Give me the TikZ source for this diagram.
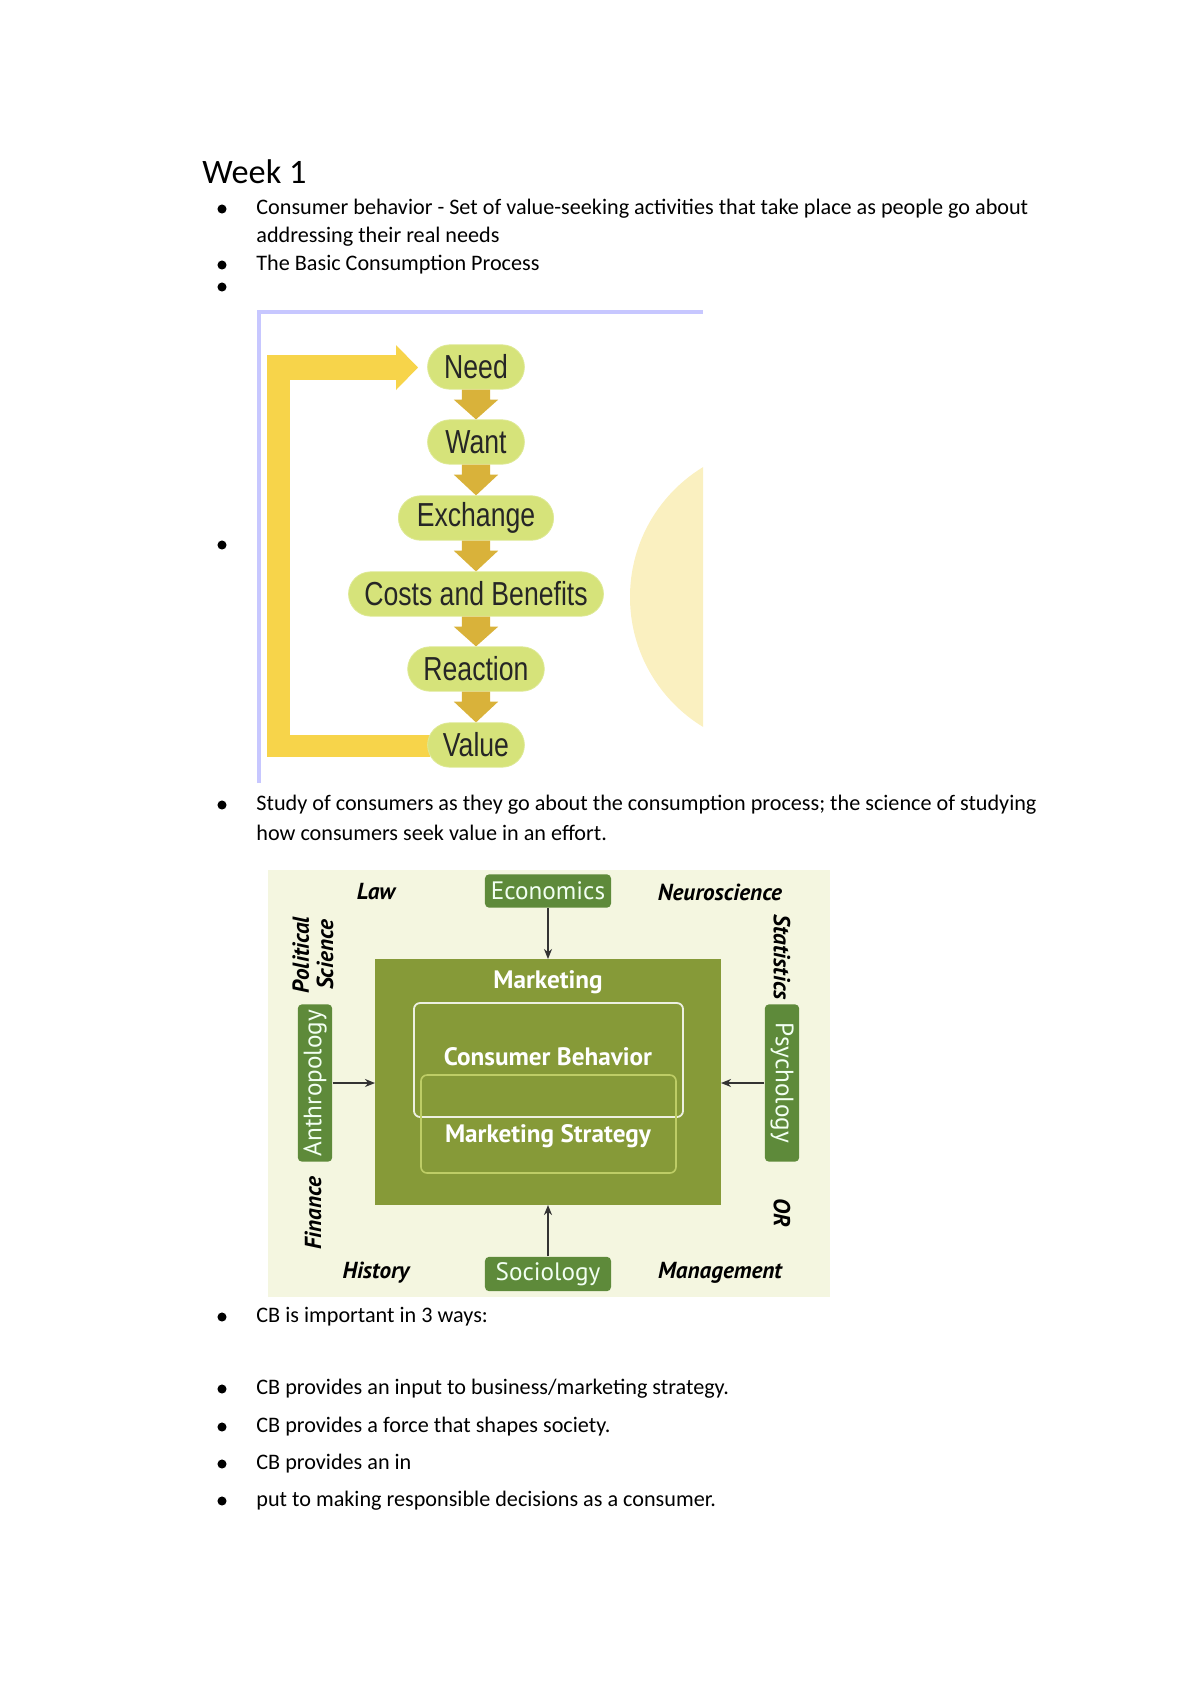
\documentclass[tikz,border=0pt]{standalone}
\usepackage{fontspec}
\setmainfont{Carlito}
\newfontfamily\narrowf[FakeStretch=0.8]{Liberation Sans}
\newfontfamily\ptf{PT Sans}
\usetikzlibrary{shapes.geometric,shapes.misc,arrows.meta}
\definecolor{pill}{HTML}{D6E37A}
\definecolor{gold}{HTML}{D9B23A}
\definecolor{loopy}{HTML}{F7D44A}
\definecolor{bgl}{HTML}{F4F6E0}
\definecolor{dg}{HTML}{5E8A3A}
\definecolor{olive}{HTML}{869A38}
\definecolor{cream}{HTML}{FAF0C0}
\tikzset{
 txt/.style={anchor=west,inner sep=0pt,font=\fontsize{11}{13}\selectfont},
 bul/.style={circle,fill=black,inner sep=0pt,minimum size=4.5pt},
 pillst/.style={rounded rectangle,fill=pill,draw=pill!80!white,minimum height=22pt,minimum width=60pt,inner xsep=6pt,font=\narrowf\fontsize{16.5}{16.5}\selectfont,text=black!85},
 disc/.style={rectangle,rounded corners=2pt,fill=dg,text=white!95!green,font=\ptf\fontsize{12.5}{12.5}\selectfont,inner sep=0pt},
 lab/.style={font=\ptf\bfseries\itshape\fontsize{11.5}{12}\selectfont,inner sep=0pt,align=center},
 inw/.style={text=white,font=\ptf\bfseries\fontsize{12.5}{12.5}\selectfont},
 ar/.style={-{Stealth[length=5pt,width=4pt]},black!80,line width=0.7pt}
}
\begin{document}
\begin{tikzpicture}[x=0.496pt,y=-0.496pt]
\useasboundingbox (0,0) rectangle (1200,1698);
\node[anchor=west,inner sep=0pt,font=\fontsize{17}{17}\selectfont] (wk) at (202,172) {Week 1};
\foreach \y/\n in {209/a,265/b,287/c,545/d,805/e,1317/f,1389/g,1427/h,1464/i,1501/j}{\node[bul] (b\n) at (222,\y) {};}
\node[txt] (t1) at (256,209) {Consumer behavior - Set of value-seeking activities that take place as people go about};
\node[txt] (t1b) at (256,237) {addressing their real needs};
\node[txt] (t2) at (256,265) {The Basic Consumption Process};
\node[txt] (t3) at (256,805) {Study of consumers as they go about the consumption process; the science of studying};
\node[txt] (t3b) at (256,833) {how consumers seek value in an effort.};
\node[txt] (t4) at (256,1317) {CB is important in 3 ways:};
\node[txt] (t5) at (256,1389) {CB provides an input to business/marketing strategy.};
\node[txt] (t6) at (256,1427) {CB provides a force that shapes society.};
\node[txt] (t7) at (256,1464) {CB provides an in};
\node[txt] (t8) at (256,1501) {put to making responsible decisions as a consumer.};
% figure 1
\begin{scope}
\clip (258,311) rectangle (703,783);
\fill[cream] (782,597) circle (152);
\end{scope}
\draw[blue!22,line width=2pt] (259,783) -- (259,312) -- (703,312);
\fill[loopy] (267,355) rectangle (290,757);
\fill[loopy] (267,355) rectangle (396,380);
\fill[loopy] (396,345) -- (418,367.5) -- (396,390) -- cycle;
\fill[loopy] (267,735) rectangle (430,757);
\foreach \y/\n/\t in {367/n1/Need,442/n2/Want,518/n3/Exchange,594/n4/Costs and Benefits,669/n5/Reaction,745/n6/Value}{
 \node[pillst,minimum width=60pt] (\n) at (476,\y) {\t};}
\foreach \a/\b in {n1/n2,n2/n3,n3/n4,n4/n5,n5/n6}{
 \path (\a.south) -- (\b.north) coordinate[pos=0] (s) coordinate[pos=1] (e);
 \fill[gold] ([xshift=-7pt]s) -- ([xshift=7pt]s) -- ([xshift=7pt,yshift=-5pt]s) -- ([xshift=11pt,yshift=-5pt]s) -- (e) -- ([xshift=-11pt,yshift=-5pt]s) -- ([xshift=-7pt,yshift=-5pt]s) -- cycle;}
% figure 2
\fill[bgl] (268,870) rectangle (830,1297);
\fill[olive] (375,959) rectangle (721,1205);
\node[inw] (mk) at (548,982) {Marketing};
\draw[white!85!olive,line width=0.9pt,rounded corners=3pt] (414,1003) rectangle (683,1117);
\draw[pill!70!olive,line width=0.8pt,rounded corners=3pt] (421,1075) rectangle (676,1173);
\node[inw] (cb) at (548,1057) {Consumer Behavior};
\node[inw] (ms) at (548,1136) {Marketing Strategy};
\coordinate (mt) at (548,959); \coordinate (mb) at (548,1205);
\coordinate (ml) at (375,1083); \coordinate (mr) at (721,1083);
\node[disc,minimum width=62.5pt,minimum height=16.5pt] (eco) at (548,891) {Economics};
\node[disc,minimum width=62.5pt,minimum height=17pt] (soc) at (548,1274) {Sociology};
\node[disc,minimum width=78pt,minimum height=17pt,rotate=90] (ant) at (315,1083) {Anthropology};
\node[disc,minimum width=78pt,minimum height=17pt,rotate=-90] (psy) at (782,1083) {Psychology};
\draw[ar] (eco) -- (mt);
\draw[ar] (soc) -- (mb);
\draw[ar] (ant.south) -- (ml);
\draw[ar] (psy.south) -- (mr);
\node[lab] (law) at (376,892) {Law};
\node[lab] (neu) at (720,892) {Neuroscience};
\node[lab,rotate=90] (pol) at (313,955) {Political\\Science};
\node[lab,rotate=-90] (sta) at (782,957) {Statistics};
\node[lab,rotate=90] (fin) at (313,1213) {Finance};
\node[lab,rotate=-90] (or) at (782,1213) {OR};
\node[lab] (his) at (376,1273) {History};
\node[lab] (man) at (720,1273) {Management};
\end{tikzpicture}
\end{document}
